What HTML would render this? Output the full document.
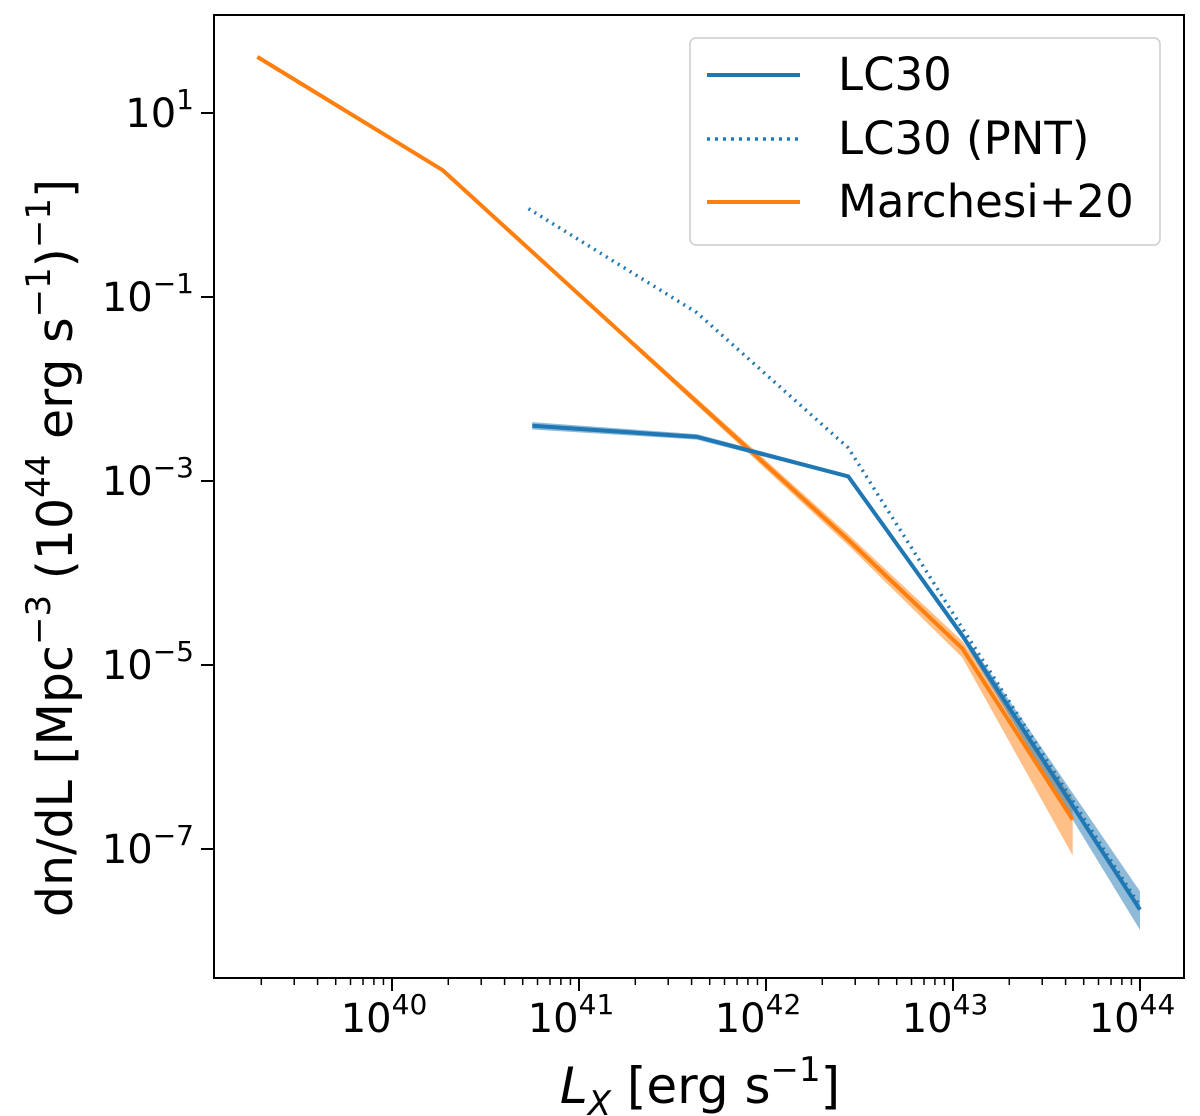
<!DOCTYPE html>
<html><head><meta charset="utf-8"><style>
html,body{margin:0;padding:0;background:#fff;}
svg{display:block;font-family:"DejaVu Sans","Liberation Sans",sans-serif;}
</style></head><body>
<svg id="chart" width="1200" height="1116" viewBox="0 0 1200 1116" xmlns="http://www.w3.org/2000/svg">
<g id="marks"></g>
<rect x="214" y="15" width="970" height="963" fill="none" stroke="#000" stroke-width="2"/>
<g id="axes"></g>
<text x="700" y="1103" font-size="50" text-anchor="middle"><tspan font-style="italic">L</tspan><tspan font-style="italic" font-size="34" dy="12">X</tspan><tspan dy="-12"> [erg s</tspan><tspan font-size="34" dy="-22">−1</tspan><tspan dy="22">]</tspan></text>
<text transform="translate(72,548) rotate(-90)" font-size="49" text-anchor="middle">dn/dL [Mpc<tspan font-size="34" dy="-22">−3</tspan><tspan dy="22"> (10</tspan><tspan font-size="34" dy="-22">44</tspan><tspan dy="22">  erg s</tspan><tspan font-size="34" dy="-22">−1</tspan><tspan dy="22">)</tspan><tspan font-size="34" dy="-22">−1</tspan><tspan dy="22">]</tspan></text>
<g>
<rect x="690" y="38" width="470" height="207" rx="6" fill="#fff" fill-opacity="0.85" stroke="#ccc" stroke-width="1.5"/>
<line x1="707" y1="75" x2="800" y2="75" stroke="#1f77b4" stroke-width="4"/>
<text x="838" y="90" font-size="45">LC30</text>
<line x1="707" y1="139" x2="800" y2="139" stroke="#1f77b4" stroke-width="3.5" stroke-dasharray="3,5"/>
<text x="838" y="154" font-size="45">LC30 (PNT)</text>
<line x1="707" y1="202" x2="800" y2="202" stroke="#ff7f0e" stroke-width="4"/>
<text x="838" y="217" font-size="45">Marchesi+20</text>
</g>
</svg>
<script>
const orangeX = [39.28, 40.27, 42.44, 43.05, 43.64];
const orangeY = [1.61, 0.38, -3.64, -4.82, -6.68];
const orangeLo = [1.61, 0.38, -3.70, -4.92, -7.07];
const orangeHi = [1.61, 0.38, -3.58, -4.74, -6.45];
const lcX = [40.75, 41.63, 42.44, 43.05, 44.0];
const lcY = [-2.40, -2.52, -2.95, -4.68, -7.66];
const lcLo = [-2.44, -2.55, -2.97, -4.72, -7.88];
const lcHi = [-2.36, -2.49, -2.93, -4.64, -7.46];
const pntX = [40.73, 41.63, 42.44, 43.05, 44.0];
const pntY = [-0.04, -1.17, -2.64, -4.60, -7.62];
const xTicks = [40, 41, 42, 43, 44];
const yTicks = [1, -1, -3, -5, -7];
const NS = 'http://www.w3.org/2000/svg';
function xs(l){return 392 + 187*(l-40);}
function ys(v){return 113 + 92*(1-v);}
const marks = document.getElementById('marks');
const axes = document.getElementById('axes');
function mk(tag, attrs, parent){const e=document.createElementNS(NS,tag);for(const k in attrs)e.setAttribute(k,attrs[k]);parent.appendChild(e);return e;}
function band(xa, lo, hi, color, name){
  let d='M'+xa.map((x,i)=>xs(x)+','+ys(hi[i])).join('L');
  d+='L'+xa.map((x,i)=>xs(x)+','+ys(lo[i])).reverse().join('L')+'Z';
  const p=mk('path',{d:d,fill:color,'fill-opacity':0.5},marks);
  
  
}
function line(xa, ya, color, name, dash){
  const pts=xa.map((x,i)=>xs(x)+','+ys(ya[i])).join(' ');
  const a={points:pts,fill:'none',stroke:color,'stroke-width':4,'stroke-linejoin':'round'};
  if(dash){a['stroke-dasharray']='2,5';a['stroke-width']=3.5;}
  const p=mk('polyline',a,marks);
  
  
}
band(orangeX, orangeLo, orangeHi, '#ff7f0e', 'marchesi-band');
band(lcX, lcLo, lcHi, '#1f77b4', 'lc30-band');
line(orangeX, orangeY, '#ff7f0e', 'marchesi-line');
line(lcX, lcY, '#1f77b4', 'lc30-line');
line(pntX, pntY, '#1f77b4', 'lc30-pnt-line', true);
for(const t of xTicks){
  const x=xs(t);
  const l=mk('line',{x1:x,y1:978,x2:x,y2:991,stroke:'#000','stroke-width':2},axes);
  
  
  const tx=mk('text',{x:x-8,y:1032,'font-size':40,'text-anchor':'middle'},axes);
  
  
  tx.innerHTML='10<tspan font-size="28" dy="-18">'+t+'</tspan>';
  for(let m=2;m<=9;m++){
    const mx=xs(t-1+Math.log10(m));
    if(mx<215)continue;
    const ml=mk('line',{x1:mx,y1:978,x2:mx,y2:985,stroke:'#000','stroke-width':1.5},axes);
    
    
  }
}
for(const t of yTicks){
  const y=ys(t);
  const l=mk('line',{x1:201,y1:y,x2:214,y2:y,stroke:'#000','stroke-width':2},axes);
  
  
  const tx=mk('text',{x:194,y:y+14,'font-size':40,'text-anchor':'end'},axes);
  
  
  tx.innerHTML='10<tspan font-size="28" dy="-18">'+(t<0?'−'+(-t):t)+'</tspan>';
}
</script>
</body></html>
